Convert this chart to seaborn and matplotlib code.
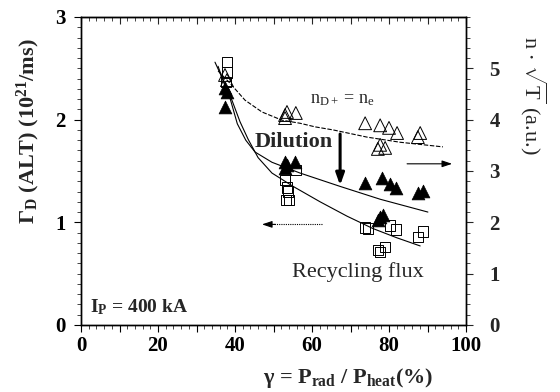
import matplotlib
matplotlib.use("Agg")
import matplotlib.pyplot as plt
from matplotlib.ticker import MultipleLocator
import seaborn as sns

sns.set_style("ticks")
plt.rcParams["font.family"] = ["Liberation Serif", "DejaVu Serif"]
plt.rcParams["mathtext.fontset"] = "custom"
plt.rcParams["mathtext.rm"] = "Liberation Serif"
plt.rcParams["mathtext.it"] = "Liberation Serif:italic"
plt.rcParams["mathtext.bf"] = "Liberation Serif:bold"
plt.rcParams["mathtext.default"] = "regular"

# Recycling flux Gamma_D (ALT), left axis
sq_x = [38.0, 38.0, 37.6, 53.0, 53.5, 53.8, 53.2, 54.0, 55.7, 73.8, 74.6, 80.3, 81.8, 88.8, 87.5, 79.0, 77.1, 77.6]
sq_y = [2.56, 2.46, 2.37, 1.41, 1.34, 1.30, 1.22, 1.22, 1.51, 0.95, 0.94, 0.97, 0.93, 0.91, 0.86, 0.76, 0.73, 0.71]

# n*sqrt(T), right axis: filled = measured, open = n_D+ = n_e
tri_f_x = [37.4, 37.9, 37.4, 53.0, 53.0, 55.6, 53.5, 73.8, 78.2, 80.3, 81.8, 87.5, 88.8, 77.7, 78.4, 77.1]
tri_f_y = [4.62, 4.54, 4.25, 3.17, 3.06, 3.17, 3.12, 2.77, 2.86, 2.75, 2.67, 2.57, 2.61, 2.10, 2.14, 2.04]
tri_o_x = [37.4, 37.9, 53.0, 53.5, 55.8, 53.0, 73.8, 77.7, 80.0, 82.1, 88.1, 87.5, 77.7, 77.1, 79.0]
tri_o_y = [4.87, 4.77, 4.09, 4.15, 4.13, 4.03, 3.93, 3.89, 3.84, 3.74, 3.74, 3.66, 3.51, 3.43, 3.45]

# fitted trend lines
fit_ne_x = [35.6, 38.7, 42.6, 47.0, 52.2, 56.9, 60.8, 65.5, 74.3, 82.9, 94.0]
fit_ne_y = [4.95, 4.71, 4.38, 4.15, 3.99, 3.93, 3.86, 3.80, 3.66, 3.56, 3.47]
fit_n_x = [35.6, 37.2, 38.7, 40.6, 42.8, 45.2, 49.6, 56.9, 67.3, 77.7, 90.1]
fit_n_y = [5.04, 4.70, 4.42, 3.92, 3.60, 3.37, 3.17, 2.96, 2.70, 2.45, 2.20]
fit_g_x = [34.8, 37.0, 39.2, 41.3, 43.4, 46.0, 49.6, 55.1, 62.1, 69.1, 75.8, 82.0, 88.1]
fit_g_y = [2.56, 2.38, 2.19, 1.98, 1.81, 1.63, 1.48, 1.35, 1.20, 1.06, 0.94, 0.85, 0.77]

x_ticks = [0, 10, 20, 30, 40, 50, 60, 70, 80, 90, 100]
x_labels = ["0", "", "20", "", "40", "", "60", "", "80", "", "100"]
left_ticks = [0, 1, 2, 3]
right_ticks = [0, 1, 2, 3, 4, 5]

fig = plt.figure(figsize=(5.6, 3.92), dpi=100)
ax = fig.add_axes([81 / 560, 1 - 325 / 392, (466 - 81) / 560, (325 - 17) / 392])
ax2 = ax.twinx()

ax.set_xlim(0, 100)
ax.set_ylim(0, 3)
ax2.set_ylim(0, 6)

line_kw = dict(color="black", linewidth=0.8, estimator=None, sort=False, legend=False)
sns.lineplot(x=fit_g_x, y=fit_g_y, ax=ax, **line_kw)
sns.lineplot(x=fit_n_x, y=fit_n_y, ax=ax2, **line_kw)
sns.lineplot(x=fit_ne_x, y=fit_ne_y, ax=ax2, dashes=False, **line_kw)
ax2.lines[-1].set_dashes([4, 1.5])

sns.scatterplot(x=sq_x, y=sq_y, ax=ax, marker="s", s=55, facecolor="none",
                edgecolor="black", linewidth=0.7, legend=False, zorder=3)
sns.scatterplot(x=tri_o_x, y=tri_o_y, ax=ax2, marker="^", s=85, facecolor="none",
                edgecolor="black", linewidth=0.7, legend=False, zorder=3)
sns.scatterplot(x=tri_f_x, y=tri_f_y, ax=ax2, marker="^", s=85, color="black",
                edgecolor="black", linewidth=0.5, legend=False, zorder=3)

# ticks
tick_font = dict(family="Liberation Serif", weight="bold", size=15)
ax.set_xticks(x_ticks)
ax.set_xticklabels(x_labels)
ax.xaxis.set_minor_locator(MultipleLocator(2))
ax.set_yticks(left_ticks)
ax.yaxis.set_minor_locator(MultipleLocator(0.1))
ax2.set_yticks(right_ticks)
ax2.yaxis.set_minor_locator(MultipleLocator(0.2))
ax.tick_params(axis="both", which="major", direction="out", length=5, width=0.8, pad=3,
               colors="black")
ax.tick_params(axis="both", which="minor", direction="out", length=3, width=0.6)
ax.tick_params(axis="y", which="major", pad=6)
ax2.tick_params(axis="y", which="major", direction="out", length=5, width=0.8, pad=12)
ax2.tick_params(axis="y", which="minor", direction="out", length=3, width=0.6)
for lab in ax.get_xticklabels() + ax.get_yticklabels() + ax2.get_yticklabels():
    lab.set_fontproperties(matplotlib.font_manager.FontProperties(**tick_font))

top = ax.secondary_xaxis("top")
top.set_xticks(x_ticks)
top.xaxis.set_minor_locator(MultipleLocator(2))
top.tick_params(axis="x", which="major", direction="in", length=5, width=0.8, labeltop=False)
top.tick_params(axis="x", which="minor", direction="in", length=3, width=0.6)

for a in (ax, ax2):
    for sp in a.spines.values():
        sp.set_linewidth(1.0)
        sp.set_color("black")
        sp.set_visible(True)

# axis titles
fig.text(28 / 560, 1 - 131 / 392, r"$\Gamma_D$ (ALT) (10$^{21}$/ms)", rotation=90,
         ha="center", va="center", fontsize=16, fontweight="bold")
fig.text(533 / 560, 1 - 95 / 392, r"n $\cdot$ $\sqrt{T}$ (a.u.)", rotation=-90,
         ha="center", va="center", fontsize=16)
fig.text(348 / 560, 1 - 378 / 392, r"$\gamma$ = P$_{rad}$ / P$_{heat}$(%)",
         ha="center", va="center", fontsize=16, fontweight="bold")

# annotations
ax.text(45.2, 1.78, "Dilution", fontsize=16, fontweight="bold", va="center", ha="left")
ax.text(59.5, 2.2, r"n$_{D+}$ = n$_e$", fontsize=13, va="center", ha="left")
ax.text(54.8, 0.52, "Recycling flux", fontsize=16, va="center", ha="left")
ax.text(2.3, 0.17, r"I$_P$ = 400 kA", fontsize=14, fontweight="bold", va="center", ha="left")

ax.annotate("", xy=(67.3, 1.36), xytext=(67.3, 1.86),
            arrowprops=dict(arrowstyle="-|>,head_length=0.7,head_width=0.25", lw=2.2,
                            color="black", shrinkA=0, shrinkB=0))
ax.plot([62.6, 50.0], [0.98, 0.98], color="black", lw=0.8, linestyle=(0, (1, 1)))
ax.annotate("", xy=(47.0, 0.98), xytext=(50.5, 0.98),
            arrowprops=dict(arrowstyle="-|>,head_length=0.6,head_width=0.2", lw=0.8,
                            color="black", shrinkA=0, shrinkB=0))
ax.annotate("", xy=(96.4, 1.57), xytext=(84.7, 1.57),
            arrowprops=dict(arrowstyle="-|>,head_length=0.6,head_width=0.2", lw=0.8,
                            color="black", shrinkA=0, shrinkB=0))

fig.savefig("out.png", dpi=100)
